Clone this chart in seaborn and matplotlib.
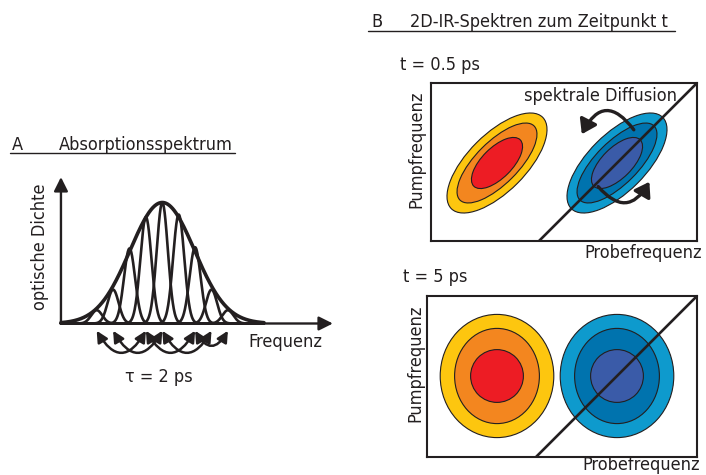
import numpy as np
import matplotlib
matplotlib.use("Agg")
import matplotlib.pyplot as plt
from matplotlib.patches import Ellipse, FancyArrowPatch
from matplotlib.lines import Line2D
import seaborn as sns

# ---------------- Panel A: absorption spectrum ----------------
peak_positions = [-2.0, -1.5, -1.0, -0.5, 0.0, 0.5, 1.0, 1.5, 2.0]
peak_heights = [0.11, 0.28, 0.62, 0.88, 1.0, 0.90, 0.63, 0.28, 0.11]
peak_width = 0.17
envelope_center = 0.0
envelope_height = 1.0
envelope_width = 0.98
# pairs of sub-bands linked by frequency hopping
hop_pairs = [(0, 3), (1, 4), (3, 6), (4, 7), (6, 8)]

# ---------------- Panel B: 2D-IR spectra ----------------
centers_x = [-3.0, 0.0]          # probe frequency of the two signals
centers_y = [0.0, 0.0]           # pump frequency
warm_colors = ["#FDC60F", "#F3861F", "#ED1C24"]
cool_colors = ["#0E9ACD", "#0073AE", "#3A5BA8"]
# t = 0.5 ps: elongated along the diagonal
early_major = [1.615, 1.31, 0.82]
early_minor = [0.72, 0.53, 0.38]
early_angle = 45
# t = 5 ps: round
late_rx = [1.42, 1.06, 0.66]
late_ry = [1.54, 1.19, 0.66]

sns.set_theme(style="white")
plt.rcParams["font.family"] = ["DejaVu Sans"]
plt.rcParams["font.stretch"] = "condensed"
plt.rcParams["text.color"] = "#231F20"
FS = 13
INK = "#231F20"

W, H = 706, 475
fig = plt.figure(figsize=(W / 100, H / 100), dpi=100)
fig.patch.set_facecolor("white")


def frame(l, t, r, b):
    return [l / W, 1 - b / H, (r - l) / W, (b - t) / H]


def fx(x):
    return x / W


def fy(y):
    return 1 - y / H


# ---------------- Panel A ----------------
axA = fig.add_axes(frame(50, 170, 345, 365))
axA.set_xlim(-3.424, 5.570)
axA.set_ylim(-0.343, 1.2686)
axA.axis("off")

x0 = -3.09
xs = np.linspace(x0, 3.1, 800)
for c, h in zip(peak_positions, peak_heights):
    ys = h * np.exp(-0.5 * ((xs - c) / peak_width) ** 2)
    sns.lineplot(x=xs, y=ys, ax=axA, color=INK, lw=1.9, legend=False)
env = envelope_height * np.exp(-0.5 * ((xs - envelope_center) / envelope_width) ** 2)
sns.lineplot(x=xs, y=env, ax=axA, color=INK, lw=2.6, legend=False)

axis_style = dict(arrowstyle="-|>,head_length=0.6,head_width=0.3", color=INK,
                  lw=1.7, mutation_scale=14, shrinkA=0, shrinkB=0)
axA.annotate("", xy=(5.2, 0), xytext=(x0, 0), arrowprops=axis_style)
axA.annotate("", xy=(x0, 1.21), xytext=(x0, 0), arrowprops=axis_style)

for i, j in hop_pairs:
    arc = FancyArrowPatch((peak_positions[i], -0.06), (peak_positions[j], -0.06),
                          arrowstyle="<|-|>,head_length=0.6,head_width=0.3",
                          mutation_scale=11, lw=1.8, color=INK,
                          connectionstyle="arc3,rad=0.85", shrinkA=0, shrinkB=0)
    axA.add_patch(arc)

fig.text(fx(11.5), fy(150), "A", fontsize=FS, va="baseline", ha="left")
fig.text(fx(58.5), fy(150), "Absorptionsspektrum", fontsize=FS, va="baseline", ha="left")
fig.add_artist(Line2D([fx(10), fx(235)], [fy(152.5)] * 2, color=INK, lw=1.0))
fig.text(fx(40), fy(247), "optische Dichte", fontsize=FS, rotation=90, va="center", ha="center")
fig.text(fx(248), fy(342), "Frequenz", fontsize=FS, va="center", ha="left")
fig.text(fx(159), fy(377), "\u03c4 = 2 ps", fontsize=FS, va="center", ha="center")

# ---------------- Panel B ----------------
fig.text(fx(371.5), fy(27), "B", fontsize=FS, va="baseline", ha="left")
fig.text(fx(410), fy(27), "2D-IR-Spektren zum Zeitpunkt t", fontsize=FS, va="baseline", ha="left")
fig.add_artist(Line2D([fx(368), fx(675)], [fy(30.5)] * 2, color=INK, lw=1.0))


def style_box(ax):
    ax.set_xticks([])
    ax.set_yticks([])
    ax.set_facecolor("white")
    for s in ax.spines.values():
        s.set_visible(True)
        s.set_color(INK)
        s.set_linewidth(1.5)
    ax.axline((0, 0), (1, 1), color=INK, lw=1.9, zorder=5)


ax1 = fig.add_axes(frame(431, 83, 697, 241))
ax1.set_xlim(-4.65, 2.0)
ax1.set_ylim(-1.95, 2.0)
for cx, cy, cols in zip(centers_x, centers_y, [warm_colors, cool_colors]):
    for a, b, col in zip(early_major, early_minor, cols):
        ax1.add_patch(Ellipse((cx, cy), 2 * a, 2 * b, angle=early_angle,
                              facecolor=col, edgecolor=INK, lw=0.8, zorder=2))
style_box(ax1)

rot_style = "-|>,head_length=0.6,head_width=0.4"
ax1.add_patch(FancyArrowPatch((0.42, 0.83), (-0.88, 0.72), arrowstyle=rot_style,
                              mutation_scale=14, lw=2.4, color=INK,
                              connectionstyle="arc3,rad=0.8", shrinkA=0, shrinkB=0, zorder=6))
ax1.add_patch(FancyArrowPatch((-0.47, -0.59), (0.81, -0.47), arrowstyle=rot_style,
                              mutation_scale=14, lw=2.4, color=INK,
                              connectionstyle="arc3,rad=0.7", shrinkA=0, shrinkB=0, zorder=6))

ax2 = fig.add_axes(frame(427, 296, 697, 457))
ax2.set_xlim(-4.75, 2.0)
ax2.set_ylim(-2.025, 2.0)
for cx, cy, cols in zip(centers_x, centers_y, [warm_colors, cool_colors]):
    for rx, ry, col in zip(late_rx, late_ry, cols):
        ax2.add_patch(Ellipse((cx, cy), 2 * rx, 2 * ry,
                              facecolor=col, edgecolor=INK, lw=0.8, zorder=2))
style_box(ax2)

fig.text(fx(400), fy(65), "t = 0.5 ps", fontsize=FS, va="center", ha="left")
fig.text(fx(403), fy(277), "t = 5 ps", fontsize=FS, va="center", ha="left")
fig.text(fx(524), fy(96), "spektrale Diffusion", fontsize=FS, va="center", ha="left")
fig.text(fx(416), fy(149), "Pumpfrequenz", fontsize=FS, rotation=90, va="center", ha="center")
fig.text(fx(415), fy(363), "Pumpfrequenz", fontsize=FS, rotation=90, va="center", ha="center")
fig.text(fx(584), fy(253), "Probefrequenz", fontsize=FS, va="center", ha="left")
fig.text(fx(582), fy(465), "Probefrequenz", fontsize=FS, va="center", ha="left")

fig.savefig("out.png", dpi=100, facecolor="white")
